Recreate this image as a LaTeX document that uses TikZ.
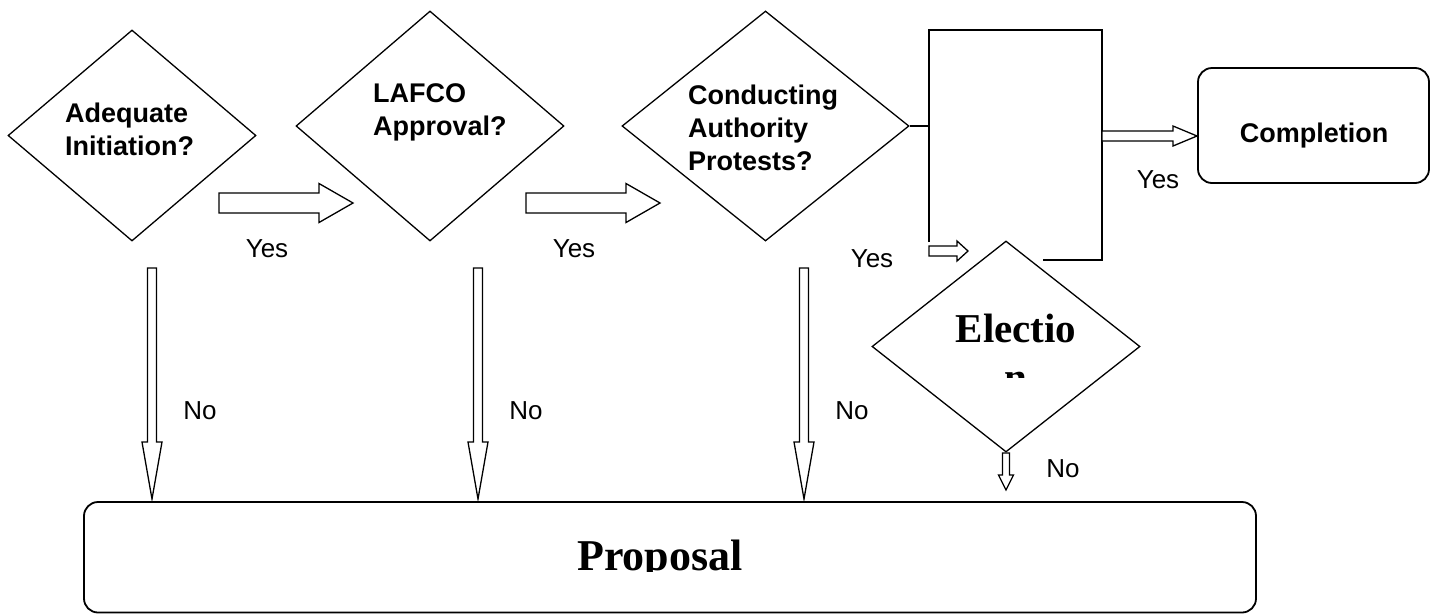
\documentclass[tikz,border=0pt]{standalone}
\usepackage{fontspec}
\setmainfont{Liberation Sans}
\newfontfamily\timesfont{Liberation Serif}
\usetikzlibrary{shapes.geometric,calc}
\tikzset{
	decision/.style={
		diamond,
		draw=black, line width=1.3pt,
		inner sep=0pt},
	roundbox/.style={
		rectangle,
		rounded corners=14pt,
		draw=black, line width=1.8pt,
		inner sep=0pt},
	asktext/.style={anchor=north west, align=left, inner sep=0pt,
		font=\fontsize{27}{33}\selectfont\bfseries},
	answer/.style={anchor=base, inner sep=0pt, font=\fontsize{26}{30}\selectfont},
	bigtext/.style={align=center, inner sep=0pt},
	line/.style={draw, line width=1.7pt},
	blockarrow/.style={draw=black, line width=1.3pt, line join=miter, fill=white},
}
% hollow block arrows: from, to, shaft half width, head half width, head length
\newcommand{\rightblock}[5]{%
	\draw[blockarrow] ($(#1)+(0,-#3)$) -- ($(#2)+(-#5,-#3)$) -- ($(#2)+(-#5,-#4)$) -- (#2)
		-- ($(#2)+(-#5,#4)$) -- ($(#2)+(-#5,#3)$) -- ($(#1)+(0,#3)$) -- cycle;}
\newcommand{\downblock}[5]{%
	\draw[blockarrow] ($(#1)+(-#3,0)$) -- ($(#2)+(-#3,-#5)$) -- ($(#2)+(-#4,-#5)$) -- (#2)
		-- ($(#2)+(#4,-#5)$) -- ($(#2)+(#3,-#5)$) -- ($(#1)+(#3,0)$) -- cycle;}

\begin{document}
\begin{tikzpicture}[x=1pt, y=-1pt]
	\useasboundingbox (0,0) rectangle (1437,614);

	% the three questions along the top
	\node[decision, minimum width=248pt, minimum height=211pt] (initiation) at (132,135.5) {};
	\node[decision, minimum width=268pt, minimum height=230pt] (lafco) at (430,126) {};
	\node[decision, minimum width=287pt, minimum height=230pt] (protests) at (765.5,126) {};
	\node[asktext] (initiation-text) at (65,103) {Adequate\\Initiation?};
	\node[asktext] (lafco-text) at (373,83) {LAFCO\\Approval?};
	\node[asktext] (protests-text) at (688,85) {Conducting\\Authority\\Protests?};

	% open bracket to the right of the protests question
	\coordinate (brk-tl) at (929,30);
	\coordinate (brk-tr) at (1102,30);
	\coordinate (brk-bl) at (929,242);
	\coordinate (brk-br) at (1102,260);
	\draw[line] (protests.east) -- (protests.east -| brk-tl);
	\draw[line] (brk-bl) -- (brk-tl) -- (brk-tr) -- (brk-br) -- ++(-59,0);

	% end states
	\node[roundbox, minimum width=231pt, minimum height=115pt] (completion) at (1313.5,125.5) {};
	\node[asktext, anchor=base] (completion-text) at (1314,142) {Completion};
	\node[decision, minimum width=268pt, minimum height=211pt] (election) at (1006,346.5) {};
	\begin{scope}
		\clip (880,300) rectangle (1130,377);
		\node[bigtext, anchor=north, font=\timesfont\bfseries\fontsize{41}{49}\selectfont] (election-text) at (1016,314) {Electio\\n};
	\end{scope}
	\node[roundbox, minimum width=1172pt, minimum height=110.5pt] (proposal) at (670,557.25) {};
	\begin{scope}
		\clip (100,520) rectangle (1240,571);
		\node[bigtext, anchor=base, font=\timesfont\bfseries\fontsize{44}{50}\selectfont] (proposal-text) at (660,570) {Proposal};
	\end{scope}

	% yes arrows
	\coordinate (yes1-from) at (219,203);
	\coordinate (yes1-to) at (353,203);
	\coordinate (yes2-from) at (526,203);
	\coordinate (yes2-to) at (660,203);
	\coordinate (yes3-from) at (929,251);
	\coordinate (yes3-to) at (968,251);
	\coordinate (yes4-from) at (1102,136);
	\coordinate (yes4-to) at (1197,136);
	\rightblock{yes1-from}{yes1-to}{10}{19.5}{34}
	\rightblock{yes2-from}{yes2-to}{10}{19.5}{34}
	\rightblock{yes3-from}{yes3-to}{5}{10}{11}
	\rightblock{yes4-from}{yes4-to}{5}{10}{24}

	% no arrows down to the proposal
	\foreach \x in {152,478,804} {
		\coordinate (no\x-from) at (\x,268);
		\coordinate (no\x-to) at (\x,499);
		\downblock{no\x-from}{no\x-to}{4.5}{10}{57}
	}
	\coordinate (no4-from) at (1006,453);
	\coordinate (no4-to) at (1006,490);
	\downblock{no4-from}{no4-to}{3.5}{7.5}{15}

	% answer labels
	\foreach \x/\y [count=\i] in {267/257, 574/257, 872/267, 1158/188}
		\node[answer] (yes-label-\i) at (\x,\y) {Yes};
	\foreach \x/\y [count=\i] in {200/419, 526/419, 852/419, 1063/477}
		\node[answer] (no-label-\i) at (\x,\y) {No};
\end{tikzpicture}
\end{document}
